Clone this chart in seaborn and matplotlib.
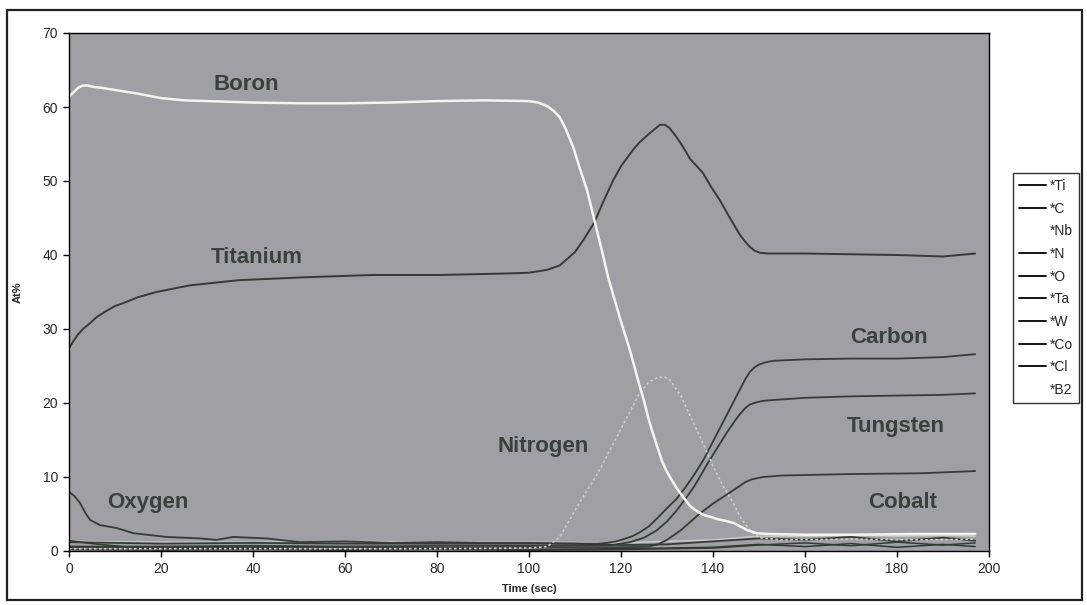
import matplotlib
matplotlib.use("Agg")
import matplotlib.pyplot as plt
from matplotlib.lines import Line2D
from matplotlib.patches import Rectangle
import seaborn as sns

# ---- data (time in sec, At%) ----
boron_t = [0, 1, 2, 3, 4, 5.5, 7, 10, 15, 20, 25, 30, 40, 50, 60, 70, 80, 90, 100, 102,
           104, 105.5, 106.7, 108, 109.6, 111, 112.6, 114.3, 116, 117.2, 118.5, 120, 122,
           123.7, 125, 126, 127.5, 129, 130, 131, 132, 133.5, 135, 136, 137.8, 139.5, 141,
           142.5, 144.4, 146, 147.5, 149.5, 152, 160, 170, 185, 197]
boron_v = [61.4, 62.0, 62.6, 62.9, 62.9, 62.7, 62.6, 62.3, 61.8, 61.2, 60.9, 60.8, 60.6,
           60.5, 60.5, 60.6, 60.8, 60.9, 60.8, 60.6, 60.1, 59.4, 58.6, 57.0, 54.6, 51.8,
           48.8, 44.5, 40.2, 37.0, 34.2, 31.0, 27.0, 23.1, 20.3, 17.8, 14.8, 12.0, 10.7,
           9.6, 8.6, 7.3, 6.1, 5.6, 4.9, 4.6, 4.3, 4.1, 3.8, 3.3, 2.8, 2.4, 2.3, 2.2, 2.2,
           2.3, 2.3]

titanium_t = [0, 1, 2, 3.2, 4.6, 6, 8, 10, 11.8, 15, 19, 26.3, 37, 51.7, 66, 80.6, 95, 100,
              104, 106.7, 108, 110, 112, 114.3, 116, 118.3, 120, 122.6, 124, 126.3, 127.5,
              128.5, 129.5, 130.5, 132, 133.5, 135, 137.8, 139.5, 141.5, 143.5, 145.2, 146,
              147, 148, 149, 150.2, 152, 160, 170, 180, 190, 197]
titanium_v = [27.4, 28.4, 29.3, 30.1, 30.8, 31.6, 32.4, 33.1, 33.5, 34.3, 35.0, 35.9, 36.6,
              37.0, 37.3, 37.3, 37.5, 37.6, 38.0, 38.6, 39.3, 40.4, 42.2, 44.5, 47.0, 50.1,
              52.0, 54.2, 55.2, 56.5, 57.1, 57.6, 57.6, 57.2, 56.0, 54.6, 53.0, 51.1, 49.3,
              47.4, 45.2, 43.4, 42.6, 41.8, 41.1, 40.6, 40.3, 40.2, 40.2, 40.1, 40.0, 39.8,
              40.2]

carbon_t = [0, 20, 40, 60, 80, 100, 115, 117, 119, 121, 122.5, 124, 126, 128, 130, 132,
            134, 136, 138, 140, 142, 144, 146, 147, 148, 149, 150, 151.5, 153, 160, 170,
            180, 190, 197]
carbon_v = [1.2, 1.0, 1.1, 1.0, 1.0, 1.0, 1.0, 1.1, 1.3, 1.7, 2.0, 2.5, 3.3, 4.5, 5.8, 7.0,
            8.6, 10.4, 12.4, 14.8, 17.2, 19.6, 22.0, 23.2, 24.2, 24.8, 25.2, 25.5, 25.7,
            25.9, 26.0, 26.0, 26.2, 26.6]

tungsten_t = [0, 20, 40, 60, 80, 100, 118, 120, 122, 125, 127.8, 130, 132, 134.3, 136,
              138.9, 141, 143, 145, 146, 147, 148, 149.5, 151, 153, 160, 170, 180, 190, 197]
tungsten_v = [0.6, 0.6, 0.7, 0.6, 0.7, 0.7, 0.8, 1.0, 1.2, 1.8, 2.8, 4.0, 5.4, 7.3, 8.8,
              11.9, 14.0, 16.0, 17.8, 18.6, 19.3, 19.8, 20.1, 20.3, 20.4, 20.7, 20.9, 21.0,
              21.1, 21.3]

cobalt_t = [0, 20, 40, 60, 80, 100, 120, 126, 128, 130, 133, 137.2, 140, 144.4, 147, 148.5,
            150.9, 155, 170, 185, 197]
cobalt_v = [0.5, 0.4, 0.5, 0.5, 0.4, 0.5, 0.5, 0.6, 0.9, 1.5, 2.8, 5.1, 6.4, 8.2, 9.3, 9.7,
            10.0, 10.2, 10.4, 10.5, 10.8]

nitrogen_t = [0, 40, 80, 100, 104, 106.7, 110, 115.4, 120, 124, 126, 127.5, 128.5, 129.5,
              130.5, 133, 135, 137.2, 140, 142, 144.4, 146, 148, 150, 155, 170, 185, 197]
nitrogen_v = [0.3, 0.3, 0.3, 0.4, 0.6, 1.9, 5.5, 11.0, 16.5, 21.3, 22.8, 23.3, 23.5, 23.5,
              23.2, 21.0, 18.3, 15.4, 11.5, 9.0, 6.5, 4.5, 2.8, 1.8, 1.5, 1.6, 1.5, 1.6]

oxygen_t = [0, 1.2, 2.4, 3.5, 4.6, 6.7, 10.4, 14, 21.2, 28.5, 32, 35.7, 43, 50, 60, 70, 80,
            90, 100, 110, 120, 130, 140, 150, 160, 170, 180, 190, 197]
oxygen_v = [8.0, 7.4, 6.5, 5.2, 4.2, 3.5, 3.1, 2.4, 1.9, 1.7, 1.5, 1.9, 1.7, 1.2, 1.3, 1.1,
            1.2, 1.1, 1.1, 1.0, 0.8, 0.9, 1.3, 1.7, 1.5, 1.9, 1.3, 1.8, 1.4]

chlorine_t = [0, 5, 10, 15, 20, 40, 60, 80, 100, 120, 140, 150, 160, 170, 180, 190, 197]
chlorine_v = [1.4, 1.0, 0.7, 0.4, 0.3, 0.3, 0.2, 0.3, 0.2, 0.3, 0.5, 0.9, 0.6, 1.0, 0.5,
              0.9, 0.6]

tantalum_t = [0, 20, 40, 60, 80, 100, 120, 140, 150, 160, 170, 180, 190, 197]
tantalum_v = [0.2, 0.1, 0.2, 0.1, 0.2, 0.1, 0.2, 0.4, 0.8, 1.1, 0.7, 1.2, 0.8, 1.1]

niobium_t = [0, 20, 40, 60, 80, 100, 120, 140, 150, 160, 170, 180, 190, 197]
niobium_v = [1.3, 1.2, 1.2, 1.3, 1.2, 1.2, 1.1, 1.5, 2.0, 2.0, 2.1, 2.0, 2.1, 2.0]

legend_labels = ["*Ti", "*C", "*Nb", "*N", "*O", "*Ta", "*W", "*Co", "*Cl", "*B2"]

# (name, x, y) for the in-plot element labels
element_labels = [("Boron", 38.5, 63.0), ("Titanium", 40.8, 39.7), ("Carbon", 178.3, 28.9),
                  ("Tungsten", 179.8, 16.8), ("Cobalt", 181.3, 6.5),
                  ("Nitrogen", 103.0, 14.1), ("Oxygen", 17.2, 6.6)]

DARK = "#363b37"
BG = "#a09fa3"

sns.set_style("white")
plt.rcParams["font.family"] = ["Liberation Sans", "DejaVu Sans"]

fig = plt.figure(figsize=(10.87, 6.05), dpi=100)
ax = fig.add_axes([69 / 1087, 54 / 605, 920 / 1087, 518 / 605])
ax.set_facecolor(BG)

# faint / low-level traces first
for t, v, c, lw in [
    (niobium_t, niobium_v, "#c9c9c9", 1.1),
    (tantalum_t, tantalum_v, DARK, 1.1),
    (chlorine_t, chlorine_v, "#2f3a30", 1.1),
    (cobalt_t, cobalt_v, DARK, 1.3),
    (oxygen_t, oxygen_v, DARK, 1.3),
    (tungsten_t, tungsten_v, DARK, 1.3),
    (carbon_t, carbon_v, DARK, 1.3),
    (titanium_t, titanium_v, DARK, 1.4),
]:
    sns.lineplot(x=t, y=v, ax=ax, color=c, lw=lw)

sns.lineplot(x=nitrogen_t, y=nitrogen_v, ax=ax, color="#cdcdcd", lw=1.2,
             linestyle=(0, (1.5, 1.5)))
sns.lineplot(x=boron_t, y=boron_v, ax=ax, color="#f4f4f0", lw=1.8)

for name, x, y in element_labels:
    ax.text(x, y, name, ha="center", va="center", fontsize=16, fontweight="bold",
            color="#3c403c")

ax.set_xlim(0, 200)
ax.set_ylim(0, 70)
ax.set_xticks(range(0, 201, 20))
ax.set_yticks(range(0, 71, 10))
ax.tick_params(axis="both", direction="out", length=4, width=1, labelsize=10,
               bottom=True, left=True, color="black", pad=4)
for s in ax.spines.values():
    s.set_color("black")
    s.set_linewidth(1.0)
ax.set_xlabel("Time (sec)", fontsize=8, fontweight="bold", labelpad=6)
ax.set_ylabel("At%", fontsize=8, fontweight="bold", labelpad=14)

# legend: Nb and B2 have no visible swatch
handles = []
for lab in legend_labels:
    col = "white" if lab in ("*Nb", "*B2") else "black"
    handles.append(Line2D([0], [0], color=col, lw=1.3))
leg = fig.legend(handles, legend_labels, loc="upper left",
                 bbox_to_anchor=(1013 / 1087, 1 - 173 / 605), fontsize=10,
                 frameon=True, fancybox=False, handlelength=1.9, handletextpad=0.3,
                 labelspacing=0.62, borderpad=0.45, borderaxespad=0)
leg.get_frame().set_edgecolor("black")
leg.get_frame().set_linewidth(1.0)

# outer border of the chart
fig.patches.append(Rectangle((7 / 1087, 5 / 605), 1075 / 1087, 590 / 605,
                             transform=fig.transFigure, fill=False, edgecolor="#222222",
                             lw=1.6))

fig.savefig("out.png", dpi=100)
